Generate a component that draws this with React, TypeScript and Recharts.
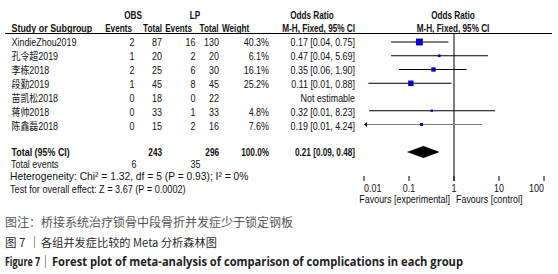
import { ComposedChart, XAxis, YAxis, Scatter, ReferenceLine, ReferenceArea } from 'recharts';

// study rows
const studies = ['XindieZhou2019', '孔令超2019', '李栋2018', '段勤2019', '苗凯松2018', '蒋帅2018', '陈鑫磊2018'];
const obsEvents = [2, 1, 2, 1, 0, 0, 0];
const obsTotal = [87, 20, 25, 45, 18, 33, 15];
const lpEvents = [16, 2, 6, 8, 0, 1, 2];
const lpTotal = [130, 20, 30, 45, 22, 33, 16];
const weights = [40.3, 6.1, 16.1, 25.2, null, 4.8, 7.6];
const oddsRatio = [0.17, 0.47, 0.35, 0.11, null, 0.32, 0.19];
const ciLow = [0.04, 0.04, 0.06, 0.0125, null, 0.013, 0.008];
const ciHigh = [0.75, 5.69, 1.9, 0.88, null, 8.23, 4.24];
const ciLabelLow = ['0.04', '0.04', '0.06', '0.01', '', '0.01', '0.01'];

// pooled
const pooled = { or: 0.21, lo: 0.09, hi: 0.48, obsTotal: 243, lpTotal: 296, obsEvents: 6, lpEvents: 35 };

const xTicks = [0.01, 0.1, 1, 10, 100];
const xTickLabels = ['0.01', '0.1', '1', '10', '100'];

const W = 558;
const H = 274;
const PLOT_TOP = 33;
const PLOT_BOTTOM = 181;
const ROW0 = 42;
const PITCH = 13.75;
const TOTAL_ROW = 8;
const FONT = "'Liberation Sans', Arial, 'Noto Sans CJK SC', sans-serif";
const CJK = "'Noto Sans CJK SC', sans-serif";

const T = ({ x, y, a = 'start', b = false, s = 10.5, sx, fill = '#111', children }: any) => (
  <text
    transform={`translate(${x},${y}) scale(${sx ?? (b ? 0.78 : 0.85)},1)`}
    textAnchor={a}
    fontWeight={b ? 'bold' : 'normal'}
    fontSize={s}
    fontFamily={FONT}
    fill={fill}
  >
    {children}
  </text>
);

const points = studies
  .map((name, i) => ({ name, x: oddsRatio[i], y: i, w: weights[i] }))
  .filter((d) => d.x != null);

const Square = (p: any) => {
  const s = 1.08 * Math.sqrt(p.payload.w);
  return <rect x={p.cx - s / 2} y={p.cy - s / 2} width={s} height={s} fill="#0000CC" />;
};

const ciLine = (clipped: boolean, color: string) => (p: any) => (
  <g>
    <line x1={p.x1 + (clipped ? 2 : 0)} y1={p.y1} x2={p.x2} y2={p.y2} stroke={color} strokeWidth={1} />
    {clipped && <polygon points={`${p.x1},${p.y1} ${p.x1 + 3},${p.y1 - 2.5} ${p.x1 + 3},${p.y1 + 2.5}`} fill="#000" />}
  </g>
);

const frac = (Math.log10(pooled.or) - Math.log10(pooled.lo)) / (Math.log10(pooled.hi) - Math.log10(pooled.lo));
const Diamond = (p: any) => {
  const xc = p.x + p.width * frac;
  const yc = p.y + p.height / 2;
  return (
    <polygon
      points={`${p.x},${yc} ${xc},${p.y} ${p.x + p.width},${yc} ${xc},${p.y + p.height}`}
      fill="#000"
    />
  );
};

const renderTick = (props: any) => {
  const { x, y, index } = props;
  const anchor = index === 0 ? 'start' : index === xTicks.length - 1 ? 'end' : 'middle';
  return (
    <g>
      <line x1={x} x2={x} y1={y - 5} y2={y} stroke="#000" />
      <T x={x} y={y + 10.5} a={anchor}>{xTickLabels[index]}</T>
    </g>
  );
};

const textY = (i: number) => 46.2 + 14 * i;

export default function App() {
  return (
    <div style={{ position: 'absolute', left: 0, top: 0, width: W, height: H, background: '#fff' }}>
      <ComposedChart
        width={W}
        height={H}
        margin={{ top: PLOT_TOP, right: W - 544, bottom: H - PLOT_BOTTOM - 20, left: 364 }}
      >
        <XAxis
          type="number"
          dataKey="x"
          scale="log"
          domain={[0.01, 100]}
          ticks={xTicks}
          allowDataOverflow
          axisLine={false}
          tickLine={false}
          tickSize={0}
          tickMargin={0}
          height={20}
          tick={renderTick}
          interval={0}
        />
        <YAxis
          type="number"
          dataKey="y"
          domain={[(PLOT_TOP - ROW0) / PITCH, (PLOT_BOTTOM - ROW0) / PITCH]}
          reversed
          hide
          allowDataOverflow
        />
        <ReferenceLine x={1} stroke="#000" strokeWidth={1} />
        {studies.map((s, i) =>
          oddsRatio[i] == null ? null : (
            <ReferenceLine
              key={s}
              segment={[
                { x: Math.max(ciLow[i] as number, 0.01), y: i },
                { x: ciHigh[i] as number, y: i },
              ]}
              shape={ciLine((ciLow[i] as number) < 0.01, i === 6 ? '#808080' : '#000')}
            />
          )
        )}
        <ReferenceArea
          x1={pooled.lo}
          x2={pooled.hi}
          y1={TOTAL_ROW - 0.44}
          y2={TOTAL_ROW + 0.44}
          shape={Diamond}
        />
        <Scatter data={points} shape={Square} isAnimationActive={false} />
      </ComposedChart>

      <svg width={W} height={H} style={{ position: 'absolute', left: 0, top: 0, pointerEvents: 'none' }}>
        <line x1={5} x2={552} y1={33.5} y2={33.5} stroke="#000" />
        <T x={133} y={18.5} a="middle" b>OBS</T>
        <T x={195} y={18.5} a="middle" b>LP</T>
        <T x={312} y={18.5} a="middle" b>Odds Ratio</T>
        <T x={453} y={18.5} a="middle" b>Odds Ratio</T>
        <T x={11.5} y={31.5} b sx={0.85}>Study or Subgroup</T>
        <T x={132} y={31.5} a="end" b>Events</T>
        <T x={162} y={31.5} a="end" b>Total</T>
        <T x={192} y={31.5} a="end" b>Events</T>
        <T x={218.5} y={31.5} a="end" b>Total</T>
        <T x={222} y={31.5} b>Weight</T>
        <T x={355} y={31.5} a="end" b>M-H, Fixed, 95% CI</T>
        <T x={453} y={31.5} a="middle" b>M-H, Fixed, 95% CI</T>

        {studies.map((s, i) => (
          <g key={s}>
            <T x={11.5} y={textY(i)}>{s}</T>
            <T x={134.5} y={textY(i)} a="end">{obsEvents[i]}</T>
            <T x={162} y={textY(i)} a="end">{obsTotal[i]}</T>
            <T x={195.5} y={textY(i)} a="end">{lpEvents[i]}</T>
            <T x={219} y={textY(i)} a="end">{lpTotal[i]}</T>
            {weights[i] != null && <T x={269} y={textY(i)} a="end">{(weights[i] as number).toFixed(1)}%</T>}
            <T x={355} y={textY(i)} a="end">
              {oddsRatio[i] == null
                ? 'Not estimable'
                : `${(oddsRatio[i] as number).toFixed(2)} [${ciLabelLow[i]}, ${(ciHigh[i] as number).toFixed(2)}]`}
            </T>
          </g>
        ))}

        <T x={11.5} y={155.7} b sx={0.85}>Total (95% CI)</T>
        <T x={162} y={155.7} a="end" b>{pooled.obsTotal}</T>
        <T x={219} y={155.7} a="end" b>{pooled.lpTotal}</T>
        <T x={269} y={155.7} a="end" b>100.0%</T>
        <T x={355} y={155.7} a="end" b>{`${pooled.or.toFixed(2)} [${pooled.lo.toFixed(2)}, ${pooled.hi.toFixed(2)}]`}</T>
        <T x={11} y={167.7}>Total events</T>
        <T x={136.5} y={167.7} a="end">{pooled.obsEvents}</T>
        <T x={200.5} y={167.7} a="end">{pooled.lpEvents}</T>
        <T x={10} y={179.7} sx={0.98}>Heterogeneity: Chi² = 1.32, df = 5 (P = 0.93); I² = 0%</T>
        <T x={10} y={192.7} sx={0.87}>Test for overall effect: Z = 3.67 (P = 0.0002)</T>

        <T x={450} y={202.5} a="end">Favours [experimental]</T>
        <T x={456} y={202.5}>Favours [control]</T>

        <text x={5} y={227} fontSize={12} fontFamily={CJK} fill="#555">图注：桥接系统治疗锁骨中段骨折并发症少于锁定钢板</text>
        <text x={5} y={246.5} fontSize={11.5} fontFamily={CJK} fill="#2a2a2a">图 7</text>
        <line x1={34.5} x2={34.5} y1={236} y2={248} stroke="#999" />
        <text x={41} y={246.5} fontSize={11.2} fontFamily={CJK} fill="#2a2a2a">各组并发症比较的 Meta 分析森林图</text>
        <text x={5} y={266} fontSize={12} fontWeight="bold" fontFamily="'Open Sans', sans-serif" fill="#222" textLength={35} lengthAdjust="spacingAndGlyphs">Figure 7</text>
        <line x1={45.5} x2={45.5} y1={255} y2={268} stroke="#999" />
        <text x={52} y={266} fontSize={12} fontWeight="bold" fontFamily="'Open Sans', sans-serif" fill="#222" textLength={411} lengthAdjust="spacingAndGlyphs">Forest plot of meta-analysis of comparison of complications in each group</text>
      </svg>
    </div>
  );
}
